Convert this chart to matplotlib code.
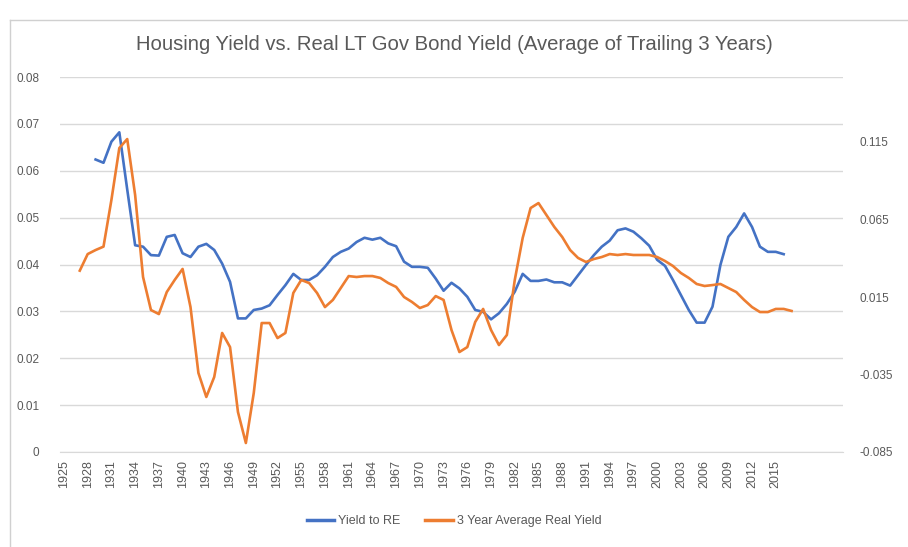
import matplotlib
matplotlib.use("Agg")
import matplotlib.pyplot as plt
from matplotlib.lines import Line2D

# Yield to RE (left axis), 1929-2016
re_years = list(range(1929, 2017))
re_yield = [
    0.0624, 0.0617, 0.0662, 0.0682, 0.0560, 0.0441, 0.0438, 0.0420, 0.0419, 0.0459,
    0.0463, 0.0424, 0.0416, 0.0438, 0.0444, 0.0431, 0.0402, 0.0363, 0.0285, 0.0285,
    0.0303, 0.0306, 0.0313, 0.0335, 0.0356, 0.0380, 0.0367, 0.0367, 0.0377, 0.0395,
    0.0416, 0.0427, 0.0434, 0.0448, 0.0457, 0.0453, 0.0457, 0.0445, 0.0439, 0.0406,
    0.0395, 0.0395, 0.0393, 0.0370, 0.0344, 0.0361, 0.0349, 0.0331, 0.0303, 0.0299,
    0.0283, 0.0296, 0.0316, 0.0342, 0.0380, 0.0365, 0.0365, 0.0368, 0.0362, 0.0362,
    0.0355, 0.0377, 0.0399, 0.0420, 0.0438, 0.0451, 0.0473, 0.0477, 0.0470, 0.0456,
    0.0440, 0.0410, 0.0397, 0.0367, 0.0335, 0.0303, 0.0276, 0.0276, 0.0310, 0.0399,
    0.0459, 0.0480, 0.0509, 0.0480, 0.0438, 0.0427, 0.0427, 0.0422,
]

# 3 Year Average Real Yield (right axis), 1927-2017
real_years = list(range(1927, 2018))
real_yield = [
    0.0320, 0.0427, 0.0453, 0.0475, 0.0776, 0.1111, 0.1169, 0.0808, 0.0279, 0.0066,
    0.0040, 0.0182, 0.0260, 0.0331, 0.0085, -0.0340, -0.0495, -0.0366, -0.0082, -0.0173,
    -0.0592, -0.0792, -0.0469, -0.0018, -0.0018, -0.0115, -0.0082, 0.0176, 0.0260, 0.0240,
    0.0176, 0.0085, 0.0131, 0.0208, 0.0285, 0.0279, 0.0285, 0.0285, 0.0273, 0.0240,
    0.0215, 0.0150, 0.0118, 0.0079, 0.0098, 0.0156, 0.0131, -0.0063, -0.0205, -0.0173,
    -0.0011, 0.0073, -0.0063, -0.0160, -0.0095, 0.0260, 0.0531, 0.0724, 0.0756, 0.0679,
    0.0602, 0.0537, 0.0453, 0.0402, 0.0376, 0.0395, 0.0408, 0.0427, 0.0421, 0.0427,
    0.0421, 0.0421, 0.0421, 0.0408, 0.0382, 0.0350, 0.0305, 0.0273, 0.0234, 0.0221,
    0.0227, 0.0234, 0.0208, 0.0182, 0.0131, 0.0085, 0.0053, 0.0053, 0.0073, 0.0073,
    0.0060,
]

year_ticks = list(range(1925, 2016, 3))
left_ticks = [0, 0.01, 0.02, 0.03, 0.04, 0.05, 0.06, 0.07, 0.08]
left_labels = ["0", "0.01", "0.02", "0.03", "0.04", "0.05", "0.06", "0.07", "0.08"]
right_ticks = [-0.085, -0.035, 0.015, 0.065, 0.115]
right_labels = ["-0.085", "-0.035", "0.015", "0.065", "0.115"]

BLUE = "#4472C4"
ORANGE = "#ED7D31"
GREY = "#595959"

plt.rcParams["font.family"] = ["Liberation Sans", "DejaVu Sans"]

fig = plt.figure(figsize=(9.08, 5.47), dpi=100)
ax = fig.add_axes([60 / 908, 1 - 452 / 547, 783 / 908, 375 / 547])
ax2 = ax.twinx()

ax.plot(re_years, re_yield, color=BLUE, lw=1.9, label="Yield to RE", zorder=3)
ax2.plot(real_years, real_yield, color=ORANGE, lw=1.9, label="3 Year Average Real Yield")

ax.set_xlim(1924.5, 2023.5)
ax.set_ylim(0, 0.08)
ax2.set_ylim(-0.085, -0.085 + 375 / 1550)

ax.set_yticks(left_ticks)
ax.set_yticklabels(left_labels)
ax2.set_yticks(right_ticks)
ax2.set_yticklabels(right_labels)
ax.set_xticks(year_ticks)
ax.set_xticklabels([str(y) for y in year_ticks], rotation=90)

ax.grid(axis="y", color="#D9D9D9", lw=1)
ax.set_axisbelow(True)
for a in (ax, ax2):
    for s in a.spines.values():
        s.set_visible(False)
ax.spines["bottom"].set_visible(True)
ax.spines["bottom"].set_color("#D9D9D9")

ax.tick_params(axis="y", length=0, pad=15, labelsize=8.5, labelcolor=GREY)
ax2.tick_params(axis="y", length=0, pad=12, labelsize=8.5, labelcolor=GREY)
ax.tick_params(axis="x", length=0, pad=6, labelsize=9, labelcolor=GREY)

fig.text(0.5, 1 - 45 / 547, "Housing Yield vs. Real LT Gov Bond Yield (Average of Trailing 3 Years)",
         ha="center", va="center", fontsize=14.6, color=GREY)

handles = [Line2D([], [], color=BLUE, lw=2.5), Line2D([], [], color=ORANGE, lw=2.5)]
fig.legend(handles, ["Yield to RE", "3 Year Average Real Yield"], loc="center",
           bbox_to_anchor=(0.5, 1 - 521 / 547), ncol=2, frameon=False, fontsize=9,
           labelcolor=GREY, handlelength=2.2, handletextpad=0.3, columnspacing=2.0)

# chart frame
fig.add_artist(Line2D([10 / 908, 10 / 908], [0, 1 - 20 / 547], color="#D0D0D0", lw=1))
fig.add_artist(Line2D([10 / 908, 1], [1 - 20 / 547, 1 - 20 / 547], color="#D0D0D0", lw=1))

fig.savefig("out.png", dpi=100)
